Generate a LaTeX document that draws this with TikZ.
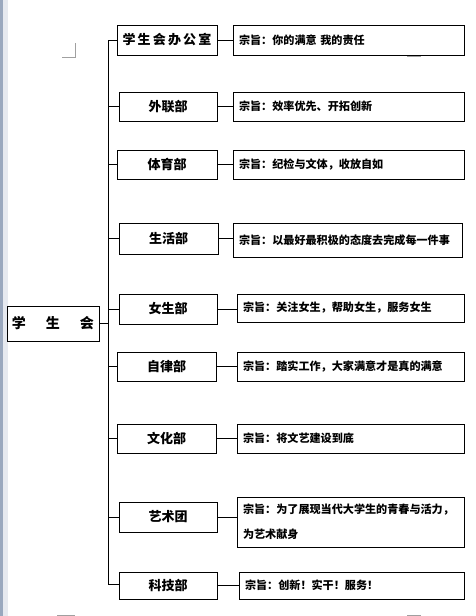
\documentclass[tikz,border=0pt]{standalone}
\usepackage{fontspec}
\usepackage{xcolor}
\usepackage{tikz}
\usetikzlibrary{calc}
\setmainfont{Noto Sans CJK SC}
\definecolor{ink}{HTML}{000000}
\definecolor{edge}{HTML}{9AA8BE}
\definecolor{mark}{HTML}{A0A0A0}
\newcommand{\hd}{\bfseries}

\begin{document}
\begin{tikzpicture}[
  x=1pt, y=-1pt,
  every node/.style={align=center},
  root/.style={draw=ink, line width=0.9pt, inner sep=0pt,
               minimum width=92pt, minimum height=35pt, font=\fontsize{14}{16}\selectfont\hd},
  dept/.style={draw=ink, line width=0.9pt, inner sep=0pt,
               minimum width=99pt, minimum height=29pt, font=\fontsize{13}{15}\selectfont\hd},
  aim/.style={draw=ink, line width=0.9pt, inner xsep=6pt, inner ysep=0pt,
              text width=215pt, align=left, minimum height=29pt,
              font=\fontsize{11.1}{25}\selectfont\hd},
  ln/.style={line width=0.9pt, draw=ink},
  pg/.style={line width=0.8pt, draw=mark},
]
\useasboundingbox (0,0) rectangle (475,616);
% window edge and page corner marks
\fill[edge] (0,0) rectangle (3,616);
\fill[edge!25] (3,0) rectangle (8,616);
\draw[pg] (75,43) -- (75,57) -- (62,57);
\draw[pg] (407,55) -- (407,56.5) -- (421,56.5);
\draw[pg] (57,615) -- (75,615);
\draw[pg] (407,615) -- (421,615);

\node[root] (su) at (53,323.5) {学\hspace{20pt}生\hspace{20pt}会};

\node[dept, minimum width=100pt, minimum height=30pt] (off) at (167,40) {学\,生\,会\,办\,公\,室};
\node[dept, minimum width=98pt] (ext) at (168,106.5) {外联部};
\node[dept, minimum width=100pt] (spo) at (167,164.5) {体育部};
\node[dept, minimum height=31pt] (liv) at (168.5,238.5) {生活部};
\node[dept, minimum width=98pt, minimum height=30pt] (gir) at (168,309) {女生部};
\node[dept] (dis) at (166.5,366.5) {自律部};
\node[dept] (cul) at (166.5,438.5) {文化部};
\node[dept, minimum width=98pt, minimum height=30pt] (art) at (168,517) {艺术团};
\node[dept, minimum width=98pt, minimum height=27pt] (tec) at (168,585.5) {科技部};

\node[aim, text width=219pt, minimum height=30pt] (offa) at (348.5,40) {宗旨：你的满意 我的责任};
\node[aim, text width=219pt] (exta) at (348.5,106.5) {宗旨：效率优先、开拓创新};
\node[aim, text width=219pt] (spoa) at (348.5,164.5) {宗旨：纪检与文体，收放自如};
\node[aim, text width=217pt, minimum height=34pt] (liva) at (347.5,240) {宗旨：以最好最积极的态度去完成每一件事};
\node[aim, minimum height=28pt] (gira) at (350.5,308) {宗旨：关注女生，帮助女生，服务女生};
\node[aim] (disa) at (350.5,366.5) {宗旨：踏实工作，大家满意才是真的满意};
\node[aim] (cula) at (350.5,438.5) {宗旨：将文艺建设到底};
\node[aim, minimum height=50pt] (arta) at (350.5,522) {宗旨：为了展现当代大学生的青春与活力，\\为艺术献身};
\node[aim, text width=213pt, minimum height=27pt] (teca) at (351.5,585.5) {宗旨：创新！实干！服务！};

% trunk
\coordinate (ttop) at (108,40);
\coordinate (tbot) at (108,584);
\draw[ln] (ttop) -- (tbot);
\draw[ln] (su.east) -- (su.east -| ttop);
\draw[ln] (ttop) -- (off.west);
\draw[ln] (ext.west -| ttop) -- (ext.west);
\draw[ln] (spo.west -| ttop) -- (spo.west);
\draw[ln] (liv.west -| ttop) -- (liv.west);
\draw[ln] (gir.west -| ttop) -- (gir.west);
\draw[ln] (dis.west -| ttop) -- (dis.west);
\draw[ln] (cul.west -| ttop) -- (cul.west);
\draw[ln] (art.west -| ttop) -- (art.west);
\draw[ln] (tbot) -- (tbot -| tec.west);
% aims
\draw[ln] (off.east) -- (off.east -| offa.west);
\draw[ln] (ext.east) -- (ext.east -| exta.west);
\draw[ln] (spo.east) -- (spo.east -| spoa.west);
\draw[ln] (liv.east) -- (liv.east -| liva.west);
\draw[ln] (gir.east) -- (gir.east -| gira.west);
\draw[ln] (dis.east) -- (dis.east -| disa.west);
\draw[ln] (cul.east) -- (cul.east -| cula.west);
\draw[ln] (art.east) -- (art.east -| arta.west);
\draw[ln] (tec.east) -- (tec.east -| teca.west);
\end{tikzpicture}
\end{document}
